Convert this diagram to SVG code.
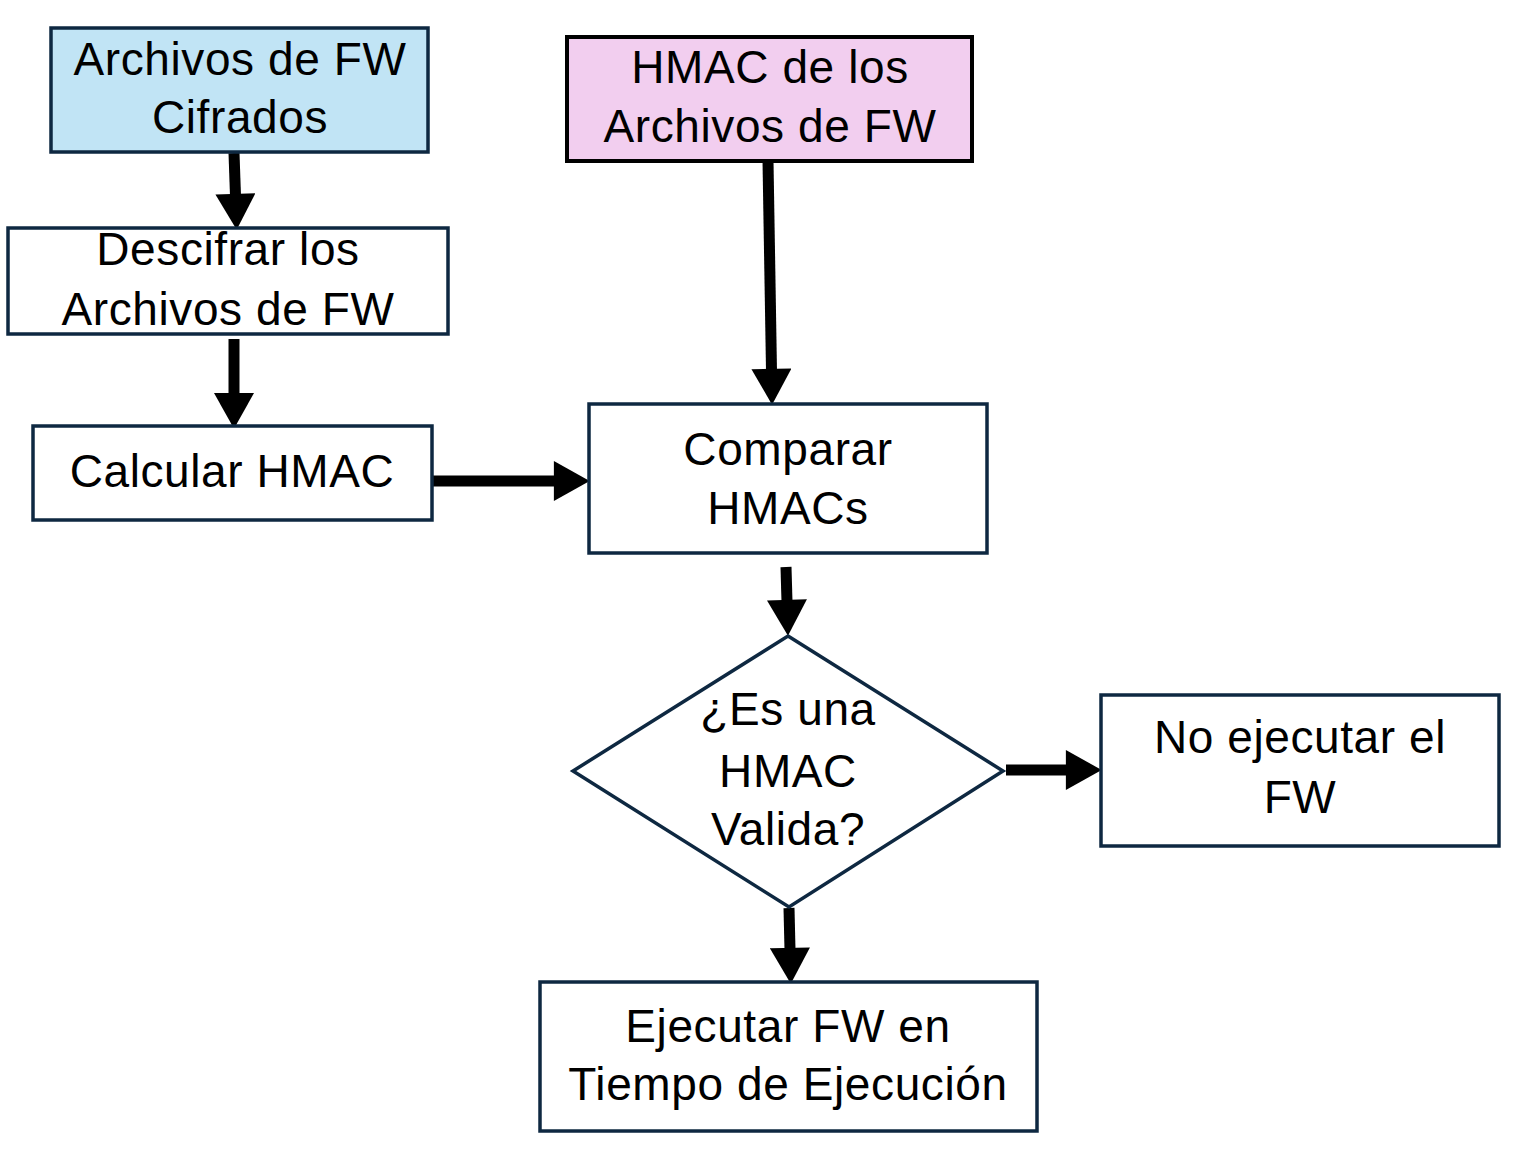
<svg xmlns="http://www.w3.org/2000/svg" width="1520" height="1149" viewBox="0 0 1520 1149">
<style>
.box{fill:#ffffff;stroke:#0E2841;stroke-width:3.5}
.t{font-family:"Liberation Sans","Arial",sans-serif;font-size:46px;letter-spacing:0.6px;fill:#000;text-anchor:middle}
.conn{stroke:#000;stroke-width:11;fill:none}
</style>
<defs>
<marker id="ah" markerUnits="userSpaceOnUse" markerWidth="40" markerHeight="40" viewBox="0 0 34 38" refX="2" refY="19" orient="auto">
<path d="M0,0 L34,19 L0,38 z" fill="#000"/>
</marker>
</defs>
<rect width="1520" height="1149" fill="#ffffff"/>
<g id="connectors">
<line class="conn" x1="234" y1="153" x2="235.5" y2="196" marker-end="url(#ah)"/>
<line class="conn" x1="234" y1="339" x2="234" y2="395" marker-end="url(#ah)"/>
<line class="conn" x1="433" y1="481" x2="556" y2="481" marker-end="url(#ah)"/>
<line class="conn" x1="768" y1="161" x2="771.5" y2="371" marker-end="url(#ah)"/>
<line class="conn" x1="786" y1="567" x2="787" y2="602" marker-end="url(#ah)"/>
<line class="conn" x1="1006" y1="770" x2="1068" y2="770" marker-end="url(#ah)"/>
<line class="conn" x1="789" y1="908" x2="790" y2="950" marker-end="url(#ah)"/>
</g>
<g id="n-cifrados">
<rect x="51" y="28" width="377" height="124" fill="#C1E4F5" stroke="#0E2841" stroke-width="3.5"/>
<text class="t" x="240" y="75">Archivos de FW</text>
<text class="t" x="240" y="133">Cifrados</text>
</g>
<g id="n-descifrar">
<rect class="box" x="8" y="228" width="440" height="106"/>
<text class="t" x="228" y="265">Descifrar los</text>
<text class="t" x="228" y="325">Archivos de FW</text>
</g>
<g id="n-calcular">
<rect class="box" x="33" y="426" width="399" height="94"/>
<text class="t" x="232" y="487">Calcular HMAC</text>
</g>
<g id="n-hmac">
<rect x="567" y="37" width="405" height="124" fill="#F2CEEF" stroke="#000" stroke-width="4"/>
<text class="t" x="770" y="83">HMAC de los</text>
<text class="t" x="770" y="142">Archivos de FW</text>
</g>
<g id="n-comparar">
<rect class="box" x="589" y="404" width="398" height="149"/>
<text class="t" x="788" y="465">Comparar</text>
<text class="t" x="788" y="524">HMACs</text>
</g>
<g id="n-valida">
<polygon points="788,636 1003,771 789,907 573,771" fill="#ffffff" stroke="#0E2841" stroke-width="3.5"/>
<text class="t" x="788" y="725">¿Es una</text>
<text class="t" x="788" y="787">HMAC</text>
<text class="t" x="788" y="845">Valida?</text>
</g>
<g id="n-noejecutar">
<rect class="box" x="1101" y="695" width="398" height="151"/>
<text class="t" x="1300" y="753">No ejecutar el</text>
<text class="t" x="1300" y="813">FW</text>
</g>
<g id="n-ejecutar">
<rect class="box" x="540" y="982" width="497" height="149"/>
<text class="t" x="788" y="1042">Ejecutar FW en</text>
<text class="t" x="788" y="1100">Tiempo de Ejecución</text>
</g>
</svg>
